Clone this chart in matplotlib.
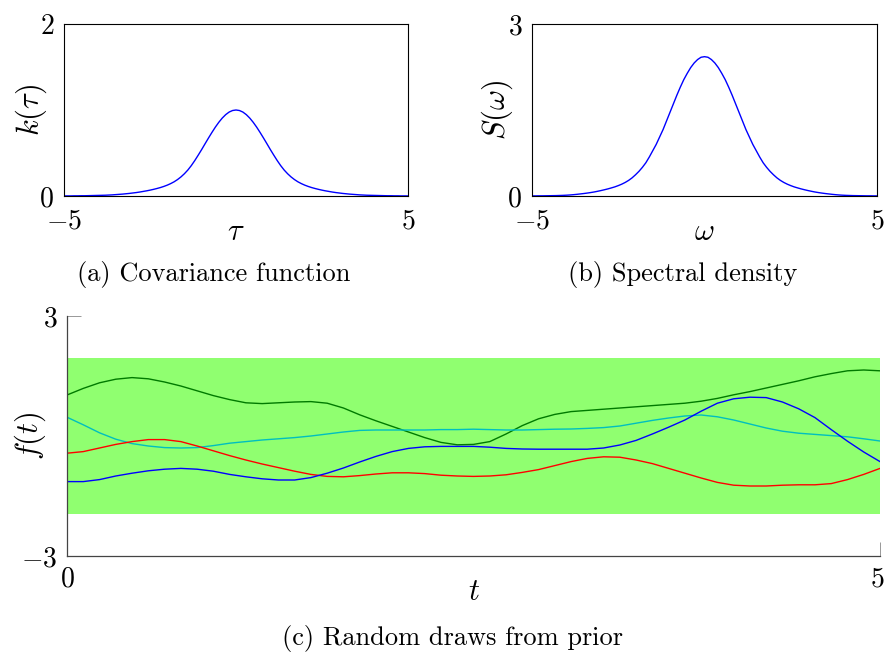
import numpy as np
import matplotlib
matplotlib.use("Agg")
import matplotlib.pyplot as plt
from matplotlib.transforms import ScaledTranslation

plt.rcParams["mathtext.fontset"] = "cm"
plt.rcParams["font.family"] = ["cmr10", "DejaVu Serif"]

# (a) covariance function, read every 0.1 from 0 to 5 (curve is symmetric)
tau = np.linspace(-5, 5, 101)
k_half = [1.0, 0.994, 0.976, 0.946, 0.906, 0.857, 0.801, 0.739, 0.674, 0.607,
          0.539, 0.474, 0.411, 0.353, 0.302, 0.259, 0.222, 0.191, 0.165, 0.144,
          0.126, 0.111, 0.098, 0.087, 0.077, 0.068, 0.06, 0.053, 0.046, 0.04,
          0.035, 0.03, 0.026, 0.022, 0.019, 0.016, 0.013, 0.011, 0.009, 0.008,
          0.007, 0.006, 0.005, 0.004, 0.003, 0.003, 0.002, 0.002, 0.001, 0.001, 0.001]
k_tau = k_half[::-1] + k_half[1:]

# (b) spectral density
omega = np.linspace(-5, 5, 101)
s_half = [2.43, 2.42, 2.38, 2.32, 2.24, 2.14, 2.03, 1.9, 1.76, 1.61,
          1.46, 1.31, 1.16, 1.03, 0.9, 0.79, 0.68, 0.58, 0.5, 0.43,
          0.37, 0.316, 0.272, 0.236, 0.206, 0.181, 0.159, 0.141, 0.124, 0.109,
          0.095, 0.082, 0.07, 0.06, 0.051, 0.043, 0.036, 0.029, 0.023, 0.018,
          0.014, 0.011, 0.009, 0.007, 0.006, 0.005, 0.004, 0.003, 0.003, 0.002, 0.002]
s_omega = s_half[::-1] + s_half[1:]

# (c) draws from the prior, read every 0.1 from 0 to 5
t = np.linspace(0, 5, 51)
band = 1.96
draw_green = [1.025, 1.19, 1.33, 1.42, 1.46, 1.43, 1.35, 1.25, 1.13, 1.01,
              0.91, 0.83, 0.81, 0.83, 0.85, 0.86, 0.82, 0.70, 0.53, 0.38,
              0.24, 0.10, -0.04, -0.16, -0.22, -0.21, -0.14, 0.05, 0.26, 0.43,
              0.54, 0.61, 0.64, 0.67, 0.70, 0.73, 0.76, 0.79, 0.82, 0.87,
              0.94, 1.03, 1.11, 1.20, 1.29, 1.38, 1.48, 1.56, 1.63, 1.65, 1.63]
draw_cyan = [0.47, 0.28, 0.08, -0.08, -0.19, -0.25, -0.29, -0.30, -0.29, -0.24,
             -0.18, -0.14, -0.10, -0.07, -0.04, 0.0, 0.05, 0.10, 0.14, 0.15,
             0.15, 0.15, 0.15, 0.16, 0.16, 0.17, 0.16, 0.15, 0.15, 0.16,
             0.17, 0.175, 0.19, 0.21, 0.25, 0.32, 0.39, 0.45, 0.50, 0.525,
             0.48, 0.40, 0.30, 0.20, 0.12, 0.07, 0.04, 0.01, -0.02, -0.07, -0.125]
draw_red = [-0.43, -0.39, -0.30, -0.21, -0.14, -0.09, -0.09, -0.14, -0.25, -0.37,
            -0.49, -0.60, -0.70, -0.79, -0.88, -0.96, -1.01, -1.02, -0.99, -0.95,
            -0.92, -0.92, -0.94, -0.98, -1.00, -1.01, -1.00, -0.97, -0.91, -0.84,
            -0.74, -0.64, -0.56, -0.52, -0.53, -0.60, -0.69, -0.81, -0.93, -1.05,
            -1.16, -1.23, -1.25, -1.25, -1.23, -1.22, -1.22, -1.19, -1.09, -0.96, -0.81]
draw_blue = [-1.14, -1.14, -1.09, -1.00, -0.93, -0.87, -0.83, -0.81, -0.83, -0.88,
             -0.96, -1.02, -1.07, -1.10, -1.10, -1.04, -0.93, -0.80, -0.65, -0.51,
             -0.39, -0.31, -0.27, -0.26, -0.26, -0.26, -0.28, -0.31, -0.325, -0.33,
             -0.33, -0.33, -0.33, -0.30, -0.225, -0.11, 0.05, 0.22, 0.40, 0.62,
             0.82, 0.93, 0.97, 0.96, 0.85, 0.68, 0.46, 0.16, -0.13, -0.40, -0.64]

W, H = 885, 653
TICK_FS = 20
LABEL_FS = 22
CAP_FS = 19


def px_axes(fig, x0, y0, x1, y1):
    return fig.add_axes([x0 / W, 1 - y1 / H, (x1 - x0) / W, (y1 - y0) / H])


def fig_text(fig, x, y, s, size, **kw):
    fig.text(x / W, 1 - y / H, s, fontsize=size, ha="center", va="center", **kw)


fig = plt.figure(figsize=(W / 100, H / 100), dpi=100)

# top panels
for (x0, x1, xs, ys, ymax, xlab, ylab, ylab_x, cap, capx) in [
        (64, 408, tau, k_tau, 2, r"$\tau$", r"$k(\tau)$", 31, "(a) Covariance function", 214),
        (532, 877, omega, s_omega, 3, r"$\omega$", r"$S(\omega)$", 497, "(b) Spectral density", 683)]:
    ax = px_axes(fig, x0, 24, x1, 196)
    ax.plot(xs, ys, color="#0000ff", lw=1.0)
    ax.set_xlim(-5, 5)
    ax.set_ylim(0, ymax)
    ax.set_xticks([-5, 5])
    ax.set_xticklabels([r"$-5$", r"$5$"])
    ax.set_yticks([0, ymax])
    ax.set_yticklabels([r"$0$", r"$%d$" % ymax])
    ax.tick_params(direction="in", length=0, labelsize=TICK_FS)
    ax.tick_params(axis="x", pad=9)
    ax.tick_params(axis="y", pad=7)
    for sp in ax.spines.values():
        sp.set_linewidth(0.8)
    fig_text(fig, (x0 + x1) / 2, 232, xlab, LABEL_FS)
    fig_text(fig, ylab_x, 110, ylab, LABEL_FS, rotation=90)
    fig_text(fig, capx, 275, cap, CAP_FS)

# bottom panel
ax = px_axes(fig, 67, 316, 880, 556)
ax.fill_between([0, 5], [-band, -band], [band, band], color="#90ff70", lw=0)
ax.plot(t, draw_green, color="#007a00", lw=1.0)
ax.plot(t, draw_cyan, color="#00bfbf", lw=1.0)
ax.plot(t, draw_red, color="#ff0000", lw=1.0)
ax.plot(t, draw_blue, color="#0000ff", lw=1.0)
ax.set_xlim(0, 5)
ax.set_ylim(-3, 3)
ax.set_xticks([0, 5])
ax.set_xticklabels([r"$0$", r"$5$"])
ax.set_yticks([-3, 3])
ax.set_yticklabels([r"$-3$", r"$3$"])
ax.spines["top"].set_visible(False)
ax.spines["right"].set_visible(False)
for sp in ("left", "bottom"):
    ax.spines[sp].set_color("#444444")
    ax.spines[sp].set_linewidth(0.9)
ax.tick_params(direction="in", length=10, width=0.6, color="#888888",
               labelsize=TICK_FS, pad=7)
# nudge the right-most "5" so it stays inside the picture
last = ax.get_xticklabels()[-1]
last.set_transform(last.get_transform() + ScaledTranslation(-0.03, 0, fig.dpi_scale_trans))
fig_text(fig, 474, 592, r"$t$", LABEL_FS)
fig_text(fig, 30, 436, r"$f(t)$", LABEL_FS, rotation=90)
fig_text(fig, 452, 638, "(c) Random draws from prior", CAP_FS)

fig.savefig("out.png", dpi=100)
